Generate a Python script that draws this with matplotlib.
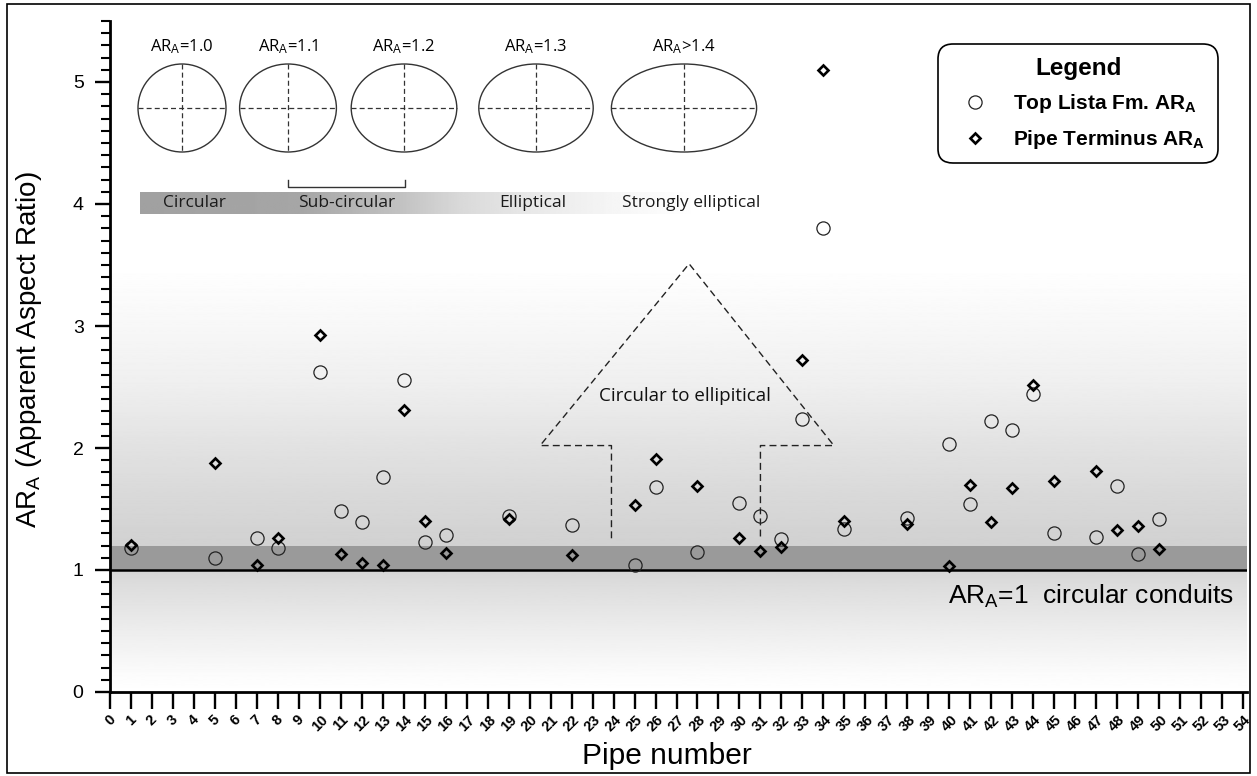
import numpy as np
import matplotlib
matplotlib.use("Agg")
import matplotlib.pyplot as plt
from matplotlib.patches import Ellipse, Rectangle
from matplotlib.ticker import MultipleLocator

# pipe numbers that were measured
pipes = [1, 5, 7, 8, 10, 11, 12, 13, 14, 15, 16, 19, 22, 25, 26, 28, 30, 31, 32,
         33, 34, 35, 38, 40, 41, 42, 43, 44, 45, 47, 48, 49, 50]
# apparent aspect ratio at the top of the Lista Fm.
top_lista = [1.18, 1.10, 1.26, 1.18, 2.62, 1.48, 1.39, 1.76, 2.56, 1.23, 1.29, 1.44,
             1.37, 1.04, 1.68, 1.15, 1.55, 1.44, 1.255, 2.24, 3.80, 1.34, 1.43, 2.03,
             1.54, 2.22, 2.15, 2.44, 1.30, 1.27, 1.69, 1.13, 1.42]
# apparent aspect ratio at the pipe terminus
terminus = [1.205, 1.88, 1.04, 1.265, 2.93, 1.13, 1.055, 1.04, 2.31, 1.40, 1.14, 1.415,
            1.12, 1.53, 1.91, 1.69, 1.26, 1.155, 1.19, 2.72, 5.10, 1.40, 1.38, 1.03,
            1.70, 1.39, 1.67, 2.52, 1.73, 1.81, 1.33, 1.36, 1.17]

x_ticks = list(range(0, 55))
y_ticks = [0, 1, 2, 3, 4, 5]

# sketch of cross-section shapes
shape_ratios = [1.0, 1.1, 1.2, 1.3, 1.65]
shape_labels = [r"AR$_\mathrm{A}$=1.0", r"AR$_\mathrm{A}$=1.1", r"AR$_\mathrm{A}$=1.2",
                r"AR$_\mathrm{A}$=1.3", r"AR$_\mathrm{A}$>1.4"]
classes = ["Circular", "Sub-circular", "Elliptical", "Strongly elliptical"]

# outline of the "circular to elliptical" arrow (pipe number, AR)
arrow_x = [23.9, 23.9, 20.5, 27.6, 34.5, 31.0, 31.0]
arrow_y = [1.26, 2.02, 2.02, 3.51, 2.02, 2.02, 1.25]

plt.rcParams["font.family"] = ["Liberation Sans", "DejaVu Sans"]
plt.rcParams["mathtext.fontset"] = "custom"
plt.rcParams["mathtext.rm"] = "Liberation Sans"
plt.rcParams["mathtext.bf"] = "Liberation Sans:bold"
plt.rcParams["mathtext.it"] = "Liberation Sans:italic"

W, H = 1257, 776
fig = plt.figure(figsize=(W / 100, H / 100), dpi=100)
ax = fig.add_axes([110 / W, 1 - 692 / H, 1137 / W, 671 / H])
xmax, ymax = 54.19, 5.5

# grey shading behind the points
stop_v = [0.0, 0.15, 0.5, 0.85, 1.0, 1.2, 1.6, 2.0, 2.5, 3.0, 3.5, 5.5]
stop_g = [1.0, 0.985, 0.93, 0.87, 0.84, 0.82, 0.85, 0.885, 0.935, 0.97, 1.0, 1.0]
levels = np.linspace(0, ymax, 800)
shade = np.interp(levels, stop_v, stop_g)
ax.imshow(shade[:, None], extent=[0, xmax, 0, ymax], origin="lower", aspect="auto",
          cmap="gray", vmin=0, vmax=1, zorder=0)
ax.axhspan(1.0, 1.2, color="#9a9a9a", lw=0, zorder=0.5)
ax.axhline(1.0, color="black", lw=1.8, zorder=2)

ax.plot(pipes, top_lista, "o", ls="none", mfc="none", mec="#222222", ms=9.5, mew=0.9,
        zorder=3, label=r"Top Lista Fm. AR$_\mathbf{A}$")
ax.plot(pipes, terminus, "D", ls="none", mfc="none", mec="black", ms=5.5, mew=1.9,
        zorder=4, label=r"Pipe Terminus AR$_\mathbf{A}$")

ax.plot(arrow_x, arrow_y, ls=(0, (5, 3)), lw=1.0, color="#222222", zorder=2.5)
ax.text(27.4, 2.43, "Circular to ellipitical", ha="center", va="center",
        fontsize=13.5, family="Open Sans", color="#111111")
ax.text(53.6, 0.78, r"AR$_\mathrm{A}$=1  circular conduits", ha="right", va="center",
        fontsize=19)

ax.set_xlim(0, xmax)
ax.set_ylim(0, ymax)
for side in ["top", "right"]:
    ax.spines[side].set_visible(False)
for side in ["left", "bottom"]:
    ax.spines[side].set_linewidth(2.0)

ax.set_xticks(x_ticks)
ax.set_xticklabels([str(t) for t in x_ticks], rotation=45, ha="center",
                   fontsize=10.5, fontweight="bold")
ax.tick_params(axis="x", length=12, width=1.7, pad=3)
ax.set_yticks(y_ticks)
ax.yaxis.set_minor_locator(MultipleLocator(0.1))
ax.tick_params(axis="y", which="major", length=11, width=1.7, labelsize=14, pad=8)
ax.tick_params(axis="y", which="minor", length=6.5, width=1.5)

ax.set_xlabel("Pipe number", fontsize=21.5)
ax.xaxis.set_label_coords(0.49, -0.074)
ax.set_ylabel(r"AR$_\mathrm{A}$ (Apparent Aspect Ratio)", fontsize=20)
ax.yaxis.set_label_coords(-0.058, 0.51)

leg = ax.legend(loc="upper right", bbox_to_anchor=(0.9745, 0.965), title="Legend",
                prop={"weight": "bold", "size": 15},
                title_fontproperties={"weight": "bold", "size": 17.5},
                frameon=True, fancybox=True, edgecolor="black", framealpha=1,
                borderpad=0.6, handlelength=2.3, handletextpad=0.7,
                labelspacing=0.6, borderaxespad=0)
leg.get_frame().set_linewidth(1.2)
leg.get_frame().set_boxstyle("round,pad=0,rounding_size=0.7")

# sketches above the data, drawn in pixel space
deco = fig.add_axes([0, 0, 1, 1])
deco.set_xlim(0, W)
deco.set_ylim(H, 0)
deco.axis("off")

centers = [182, 288, 404, 536, 684]
cy, eh = 108, 88
for cx, ratio, lab in zip(centers, shape_ratios, shape_labels):
    ew = eh * ratio
    deco.add_patch(Ellipse((cx, cy), ew, eh, fill=False, lw=1.0, ec="#333333"))
    deco.plot([cx - ew / 2, cx + ew / 2], [cy, cy], ls=(0, (4, 2.5)), lw=0.9, color="#333333")
    deco.plot([cx, cx], [cy - eh / 2, cy + eh / 2], ls=(0, (4, 2.5)), lw=0.9, color="#333333")
    deco.text(cx, 47, lab, ha="center", va="center", fontsize=12, family="Open Sans")

# class bar fading from grey to white
bar_x = np.linspace(140, 760, 400)
bar_g = np.interp(bar_x, [140, 300, 400, 460, 530, 610, 700], [0.63, 0.65, 0.76, 0.85, 0.91, 0.96, 1.0])
deco.imshow(bar_g[None, :], extent=[140, 760, 214, 192], aspect="auto", cmap="gray",
            vmin=0, vmax=1)
deco.set_xlim(0, W)
deco.set_ylim(H, 0)
for cx, lab in zip([194, 347, 533, 691], classes):
    deco.text(cx, 203, lab, ha="center", va="center", fontsize=12.5, family="Open Sans",
              color="#1a1a1a")
deco.plot([288, 288, 405, 405], [180, 187, 187, 180], color="#333333", lw=1.0)

deco.add_patch(Rectangle((7, 4), 1243, 769, fill=False, ec="black", lw=1.2))

fig.savefig("out.png", dpi=100)
